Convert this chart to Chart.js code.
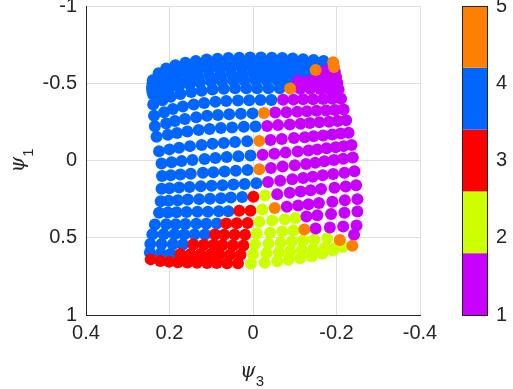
<!DOCTYPE html>
<html>
<head>
<meta charset="utf-8">
<script src="https://cdn.jsdelivr.net/npm/chart.js@4.4.0/dist/chart.umd.min.js"></script>
<style>
  html, body { margin: 0; padding: 0; background: #fff; }
</style>
</head>
<body>
<canvas id="embedChart" width="513" height="389"></canvas>
<script>
// psi_3 (x) per grid row, top row first
const psi3Rows = [
  [0.240, 0.226, 0.208, 0.186, 0.162, 0.137, 0.111, 0.085, 0.059, 0.033, 0.007, -0.019, -0.045, -0.070, -0.095, -0.120, -0.145, -0.169, -0.192],
  [0.241, 0.224, 0.206, 0.184, 0.160, 0.135, 0.109, 0.083, 0.056, 0.030, 0.004, -0.022, -0.048, -0.073, -0.098, -0.123, -0.148, -0.171, -0.194],
  [0.242, 0.223, 0.204, 0.182, 0.157, 0.132, 0.106, 0.080, 0.054, 0.027, 0.001, -0.025, -0.051, -0.076, -0.101, -0.126, -0.150, -0.174, -0.196],
  [0.241, 0.221, 0.202, 0.180, 0.155, 0.130, 0.104, 0.078, 0.051, 0.025, -0.002, -0.028, -0.054, -0.080, -0.104, -0.128, -0.153, -0.176, -0.199],
  [0.239, 0.219, 0.200, 0.177, 0.152, 0.127, 0.100, 0.074, 0.047, 0.021, -0.006, -0.032, -0.059, -0.084, -0.108, -0.132, -0.157, -0.180, -0.202],
  [0.239, 0.217, 0.197, 0.174, 0.148, 0.123, 0.097, 0.070, 0.043, 0.016, -0.010, -0.037, -0.064, -0.089, -0.113, -0.137, -0.161, -0.183, -0.205],
  [0.237, 0.213, 0.192, 0.168, 0.142, 0.117, 0.090, 0.064, 0.036, 0.009, -0.018, -0.044, -0.072, -0.097, -0.120, -0.144, -0.168, -0.190, -0.211],
  [0.235, 0.208, 0.187, 0.163, 0.136, 0.110, 0.084, 0.057, 0.029, 0.001, -0.026, -0.053, -0.080, -0.106, -0.129, -0.152, -0.175, -0.196, -0.217],
  [0.231, 0.204, 0.182, 0.157, 0.130, 0.104, 0.077, 0.050, 0.022, -0.006, -0.034, -0.060, -0.088, -0.114, -0.136, -0.159, -0.182, -0.203, -0.223],
  [0.225, 0.200, 0.177, 0.151, 0.123, 0.097, 0.070, 0.043, 0.014, -0.015, -0.042, -0.069, -0.098, -0.124, -0.145, -0.168, -0.190, -0.210, -0.229],
  [0.219, 0.195, 0.171, 0.145, 0.116, 0.090, 0.063, 0.035, 0.006, -0.023, -0.051, -0.078, -0.107, -0.133, -0.154, -0.176, -0.198, -0.217, -0.236],
  [0.218, 0.197, 0.174, 0.149, 0.120, 0.095, 0.068, 0.041, 0.013, -0.015, -0.043, -0.071, -0.100, -0.127, -0.149, -0.171, -0.194, -0.216, -0.239],
  [0.219, 0.200, 0.177, 0.152, 0.125, 0.099, 0.073, 0.047, 0.020, -0.008, -0.036, -0.065, -0.094, -0.120, -0.143, -0.167, -0.192, -0.219, -0.243],
  [0.221, 0.202, 0.180, 0.156, 0.129, 0.103, 0.077, 0.053, 0.026, -0.001, -0.029, -0.058, -0.088, -0.114, -0.138, -0.163, -0.195, -0.222, -0.247],
  [0.225, 0.204, 0.183, 0.159, 0.133, 0.108, 0.082, 0.059, 0.033, 0.006, -0.022, -0.052, -0.081, -0.108, -0.133, -0.158, -0.190, -0.220, -0.250],
  [0.235, 0.208, 0.185, 0.162, 0.136, 0.112, 0.087, 0.064, 0.039, 0.013, -0.015, -0.046, -0.076, -0.102, -0.128, -0.154, -0.187, -0.219, -0.250],
  [0.241, 0.214, 0.188, 0.165, 0.140, 0.115, 0.091, 0.069, 0.044, 0.019, -0.009, -0.041, -0.070, -0.097, -0.123, -0.150, -0.184, -0.216, -0.248],
  [0.246, 0.219, 0.192, 0.168, 0.143, 0.118, 0.094, 0.073, 0.048, 0.023, -0.005, -0.037, -0.066, -0.093, -0.120, -0.147, -0.178, -0.208, -0.242],
  [0.247, 0.221, 0.197, 0.174, 0.150, 0.126, 0.102, 0.080, 0.055, 0.030, 0.000, -0.032, -0.062, -0.089, -0.117, -0.144, -0.172, -0.200, -0.238],
  [0.245, 0.222, 0.201, 0.180, 0.157, 0.134, 0.110, 0.087, 0.062, 0.036, 0.005, -0.028, -0.058, -0.085, -0.113, -0.141, -0.166, -0.191, -0.215]
];

// psi_1 (y) per grid row
const psi1Rows = [
  [-0.520, -0.565, -0.595, -0.617, -0.632, -0.644, -0.653, -0.659, -0.663, -0.665, -0.666, -0.666, -0.665, -0.663, -0.660, -0.656, -0.651, -0.644, -0.636],
  [-0.495, -0.535, -0.565, -0.587, -0.602, -0.613, -0.621, -0.627, -0.630, -0.632, -0.633, -0.633, -0.632, -0.630, -0.627, -0.623, -0.618, -0.612, -0.605],
  [-0.470, -0.505, -0.533, -0.553, -0.567, -0.578, -0.586, -0.592, -0.596, -0.598, -0.599, -0.599, -0.598, -0.596, -0.593, -0.590, -0.586, -0.581, -0.575],
  [-0.448, -0.477, -0.500, -0.517, -0.530, -0.540, -0.548, -0.553, -0.557, -0.560, -0.561, -0.561, -0.560, -0.558, -0.556, -0.553, -0.549, -0.545, -0.540],
  [-0.425, -0.448, -0.467, -0.482, -0.494, -0.503, -0.509, -0.513, -0.516, -0.518, -0.519, -0.519, -0.518, -0.517, -0.515, -0.512, -0.509, -0.506, -0.502],
  [-0.362, -0.390, -0.413, -0.430, -0.443, -0.452, -0.459, -0.464, -0.467, -0.468, -0.468, -0.468, -0.467, -0.466, -0.465, -0.464, -0.463, -0.461, -0.460],
  [-0.290, -0.313, -0.333, -0.349, -0.362, -0.372, -0.380, -0.385, -0.388, -0.390, -0.391, -0.392, -0.393, -0.394, -0.396, -0.397, -0.398, -0.399, -0.400],
  [-0.222, -0.240, -0.256, -0.269, -0.280, -0.289, -0.295, -0.300, -0.303, -0.305, -0.308, -0.311, -0.313, -0.316, -0.319, -0.322, -0.324, -0.327, -0.330],
  [-0.153, -0.166, -0.178, -0.188, -0.197, -0.204, -0.210, -0.214, -0.218, -0.220, -0.224, -0.229, -0.233, -0.238, -0.242, -0.247, -0.251, -0.256, -0.260],
  [-0.060, -0.072, -0.083, -0.093, -0.101, -0.108, -0.114, -0.119, -0.124, -0.127, -0.133, -0.139, -0.145, -0.151, -0.157, -0.162, -0.168, -0.174, -0.180],
  [0.020, 0.012, 0.004, -0.003, -0.010, -0.016, -0.022, -0.027, -0.032, -0.037, -0.044, -0.051, -0.058, -0.065, -0.072, -0.079, -0.086, -0.093, -0.100],
  [0.100, 0.095, 0.090, 0.085, 0.080, 0.076, 0.071, 0.066, 0.061, 0.056, 0.048, 0.039, 0.031, 0.022, 0.014, 0.005, -0.003, -0.012, -0.020],
  [0.183, 0.179, 0.175, 0.171, 0.167, 0.164, 0.160, 0.156, 0.152, 0.148, 0.139, 0.131, 0.122, 0.113, 0.105, 0.096, 0.087, 0.079, 0.070],
  [0.263, 0.260, 0.257, 0.253, 0.250, 0.247, 0.244, 0.240, 0.237, 0.234, 0.226, 0.218, 0.209, 0.201, 0.193, 0.185, 0.176, 0.168, 0.160],
  [0.338, 0.337, 0.335, 0.334, 0.332, 0.331, 0.329, 0.328, 0.326, 0.325, 0.317, 0.308, 0.300, 0.292, 0.283, 0.275, 0.267, 0.258, 0.250],
  [0.414, 0.413, 0.412, 0.411, 0.410, 0.409, 0.408, 0.407, 0.406, 0.405, 0.397, 0.388, 0.380, 0.372, 0.363, 0.355, 0.347, 0.338, 0.330],
  [0.478, 0.478, 0.478, 0.479, 0.479, 0.479, 0.479, 0.480, 0.480, 0.480, 0.473, 0.467, 0.460, 0.453, 0.447, 0.440, 0.433, 0.427, 0.420],
  [0.540, 0.541, 0.542, 0.543, 0.544, 0.545, 0.546, 0.547, 0.548, 0.550, 0.544, 0.538, 0.532, 0.525, 0.518, 0.511, 0.503, 0.515, 0.480],
  [0.595, 0.600, 0.603, 0.605, 0.606, 0.607, 0.608, 0.609, 0.610, 0.610, 0.606, 0.600, 0.594, 0.588, 0.581, 0.574, 0.567, 0.559, 0.552],
  [0.640, 0.650, 0.656, 0.659, 0.661, 0.662, 0.663, 0.664, 0.665, 0.665, 0.668, 0.662, 0.652, 0.642, 0.632, 0.620, 0.602, 0.582, 0.560]
];

// cluster id (1..5) of every point, one string per row
const clusterRows = [
  '4444444444444444445',
  '4444444444444444445',
  '4444444444444444511',
  '4444444444444444111',
  '4444444444444411111',
  '4444444444444511111',
  '4444444444441111111',
  '4444444444511111111',
  '4444444444111111111',
  '4444444445111111111',
  '4444444441111111111',
  '4444444445111111111',
  '4444444444111111111',
  '4444444443211111111',
  '4444444433251111111',
  '4444444333222211111',
  '4444443333222251111',
  '4444333333222222251',
  '4443333333222222225',
  '3333333333222222222'
];

const clusterColors = { 1: '#c800ff', 2: '#ccff00', 3: '#ff0000', 4: '#0066ff', 5: '#ff8000' };
const drawOrder = [5, 1, 2, 3, 4];   // first one ends up on top

const xTicks = [0.4, 0.2, 0, -0.2, -0.4];
const xTickLabels = ['0.4', '0.2', '0', '-0.2', '-0.4'];
const yTicks = [-1, -0.5, 0, 0.5, 1];
const yTickLabels = ['-1', '-0.5', '0', '0.5', '1'];
const cbTicks = [1, 2, 3, 4, 5];
const cbTickLabels = ['1', '2', '3', '4', '5'];

const textColor = '#262626';
const gridColor = '#dfdfdf';
const tickFont = { family: '"Liberation Sans", Arial, sans-serif', size: 20 };

function labelFor(ticks, labels, v) {
  const i = ticks.findIndex(t => Math.abs(t - v) < 1e-9);
  return i >= 0 ? labels[i] : '';
}

const datasets = drawOrder.map(k => ({
  label: 'cluster ' + k,
  data: [],
  backgroundColor: clusterColors[k],
  borderColor: clusterColors[k],
  pointRadius: 6,
  pointHoverRadius: 6,
  pointBorderWidth: 0
}));
psi3Rows.forEach((row, r) => {
  row.forEach((x, c) => {
    const k = +clusterRows[r][c];
    datasets[drawOrder.indexOf(k)].data.push({ x: x, y: psi1Rows[r][c] });
  });
});

// colour bar drawn against the 'cb' scale
const colorbarPlugin = {
  id: 'colorbar',
  afterDraw(chart) {
    const { ctx, chartArea } = chart;
    const cb = chart.scales.cb;
    const x0 = chartArea.right + 42, w = 25;
    const n = cbTicks.length;
    const step = (cbTicks[n - 1] - cbTicks[0]) / n;
    ctx.save();
    cbTicks.forEach((k, i) => {
      const yTop = cb.getPixelForValue(cbTicks[0] + (i + 1) * step);
      const yBot = cb.getPixelForValue(cbTicks[0] + i * step);
      ctx.fillStyle = clusterColors[k];
      ctx.fillRect(x0, yTop, w, yBot - yTop);
    });
    ctx.strokeStyle = textColor;
    ctx.lineWidth = 1;
    const top = cb.getPixelForValue(cbTicks[n - 1]);
    const bot = cb.getPixelForValue(cbTicks[0]);
    ctx.strokeRect(x0 + 0.5, top + 0.5, w, bot - top);
    ctx.restore();
  }
};

// axis titles psi_3 and psi_1 (italic psi with subscript)
const axisTitlePlugin = {
  id: 'axisTitles',
  afterDraw(chart) {
    const { ctx, chartArea } = chart;
    const psiFont = 'italic 20px "DejaVu Serif", "Liberation Serif", serif';
    const subFont = '15px "Liberation Sans", Arial, sans-serif';
    ctx.save();
    ctx.fillStyle = textColor;
    ctx.textBaseline = 'alphabetic';
    ctx.textAlign = 'left';
    // x title
    const cx = (chartArea.left + chartArea.right) / 2;
    ctx.font = psiFont;
    const pw = ctx.measureText('ψ').width;
    ctx.font = subFont;
    const sw = ctx.measureText('3').width;
    const x0 = cx - (pw + sw) / 2 - 1;
    ctx.font = psiFont;
    ctx.fillText('ψ', x0, 377);
    ctx.font = subFont;
    ctx.fillText('3', x0 + pw, 386);
    // y title
    const cy = (chartArea.top + chartArea.bottom) / 2;
    ctx.translate(24, cy + (pw + sw) / 2);
    ctx.rotate(-Math.PI / 2);
    ctx.font = psiFont;
    ctx.fillText('ψ', 0, 0);
    ctx.font = subFont;
    ctx.fillText('1', pw, 9);
    ctx.restore();
  }
};

new Chart(document.getElementById('embedChart').getContext('2d'), {
  type: 'scatter',
  data: { datasets: datasets },
  options: {
    responsive: false,
    animation: false,
    devicePixelRatio: 1,
    layout: { padding: { top: 6, right: 0, bottom: 0, left: 0 } },
    plugins: {
      legend: { display: false },
      tooltip: { enabled: false }
    },
    scales: {
      x: {
        type: 'linear',
        min: -0.4,
        max: 0.4,
        reverse: true,
        afterBuildTicks: s => { s.ticks = xTicks.map(v => ({ value: v })); },
        afterFit: s => { s.height = 74; s.paddingLeft = 0; s.paddingRight = 0; },
        grid: { color: gridColor, drawTicks: false },
        border: { display: true, color: textColor, width: 1 },
        ticks: {
          color: textColor,
          font: tickFont,
          padding: 6,
          maxRotation: 0,
          autoSkip: false,
          callback: v => labelFor(xTicks, xTickLabels, v)
        }
      },
      y: {
        type: 'linear',
        position: 'left',
        min: -1,
        max: 1,
        reverse: true,
        afterBuildTicks: s => { s.ticks = yTicks.map(v => ({ value: v })); },
        afterFit: s => { s.width = 86; s.paddingTop = 0; s.paddingBottom = 0; },
        grid: { color: gridColor, drawTicks: false },
        border: { display: true, color: textColor, width: 1 },
        ticks: {
          color: textColor,
          font: tickFont,
          padding: 9,
          autoSkip: false,
          callback: v => labelFor(yTicks, yTickLabels, v)
        }
      },
      cb: {
        type: 'linear',
        position: 'right',
        min: 1,
        max: 5,
        afterBuildTicks: s => { s.ticks = cbTicks.map(v => ({ value: v })); },
        afterFit: s => { s.width = 93; s.paddingTop = 0; s.paddingBottom = 0; },
        grid: { display: false, drawTicks: false },
        border: { display: false },
        ticks: {
          color: textColor,
          font: tickFont,
          padding: 76,
          autoSkip: false,
          callback: v => labelFor(cbTicks, cbTickLabels, v)
        }
      }
    }
  },
  plugins: [colorbarPlugin, axisTitlePlugin]
});
</script>
</body>
</html>
